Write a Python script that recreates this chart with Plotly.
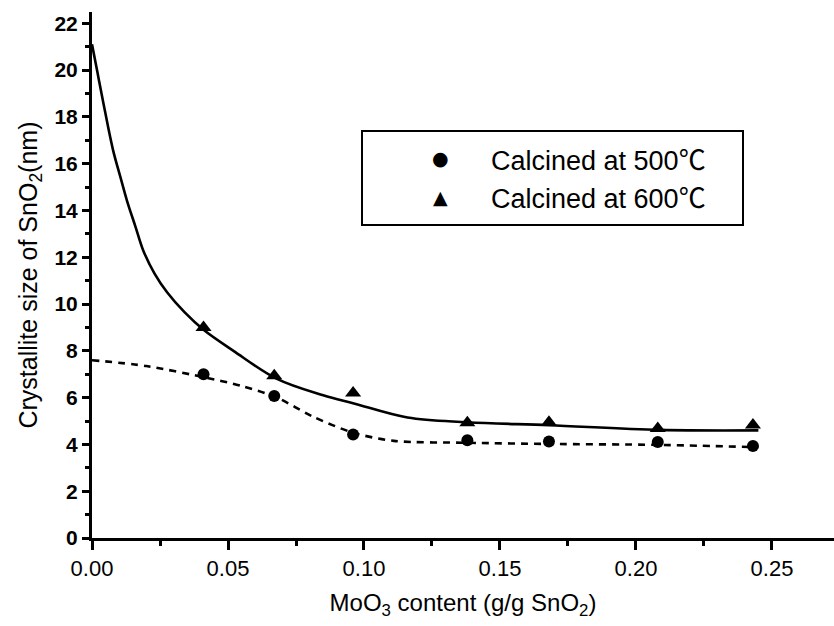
import plotly.graph_objects as go

# Measured crystallite sizes of SnO2 vs MoO3 loading
moo3_content = [0.041, 0.067, 0.096, 0.138, 0.168, 0.208, 0.243]
size_500C = [7.0, 6.07, 4.42, 4.18, 4.12, 4.1, 3.93]
size_600C = [9.0, 6.93, 6.2, 4.93, 4.95, 4.68, 4.83]

# Fitted trend curves
fit600_x = [0.0, 0.002, 0.004, 0.0077, 0.0105, 0.0129, 0.016, 0.0188, 0.023,
            0.0276, 0.034, 0.041, 0.052, 0.068, 0.085, 0.0963, 0.116, 0.138,
            0.168, 0.209, 0.245]
fit600_y = [21.1, 19.9, 18.7, 16.6, 15.4, 14.4, 13.3, 12.3, 11.3,
            10.5, 9.65, 8.9, 8.0, 6.8, 6.1, 5.75, 5.15, 4.95,
            4.82, 4.62, 4.6]
fit500_x = [0.0, 0.02, 0.042, 0.055, 0.068, 0.081, 0.096, 0.111, 0.138,
            0.168, 0.208, 0.245]
fit500_y = [7.6, 7.35, 6.85, 6.5, 6.0, 5.2, 4.5, 4.15, 4.07,
            4.02, 3.98, 3.88]

legend_labels = ["Calcined at 500", "Calcined at 600"]
legend_unit = "℃"
legend_symbols = ["●", "▲"]

FONT = "Liberation Sans, Arial, sans-serif"
CJK = "Noto Sans CJK SC"

fig = go.Figure()

fig.add_trace(go.Scatter(x=fit600_x, y=fit600_y, mode="lines",
                         line=dict(color="black", width=2.6, shape="spline", smoothing=1.0),
                         showlegend=False, hoverinfo="skip"))
fig.add_trace(go.Scatter(x=fit500_x, y=fit500_y, mode="lines",
                         line=dict(color="black", width=2.6, dash="7px,6px",
                                   shape="spline", smoothing=0.8),
                         showlegend=False, hoverinfo="skip"))
fig.add_trace(go.Scatter(x=moo3_content, y=size_500C, mode="markers",
                         marker=dict(symbol="circle", size=12, color="black"),
                         name=legend_labels[0] + legend_unit, showlegend=False))
fig.add_trace(go.Scatter(x=moo3_content, y=size_600C, mode="markers",
                         marker=dict(symbol="triangle-up", size=14, color="black"),
                         name=legend_labels[1] + legend_unit, showlegend=False))

# Boxed key in the upper right
PLOT_L, PLOT_W, PLOT_B, PLOT_T = 92, 742, 538, 12
plot_h = PLOT_B - PLOT_T
x0, x1 = (362 - PLOT_L) / PLOT_W, (743 - PLOT_L) / PLOT_W
y0 = (PLOT_B - 225) / plot_h
y1 = (PLOT_B - 131) / plot_h
fig.add_shape(type="rect", xref="paper", yref="paper", x0=x0, x1=x1, y0=y0, y1=y1,
              line=dict(color="black", width=2), fillcolor="white", layer="below")
rows_px = [158, 197]
for sym, lab, ypx in zip(legend_symbols, legend_labels, rows_px):
    yp = (PLOT_B - ypx) / plot_h
    fig.add_annotation(x=(440 - PLOT_L) / PLOT_W, y=yp, xref="paper", yref="paper",
                       text=sym, showarrow=False, xanchor="center", yanchor="middle",
                       font=dict(family="DejaVu Sans", size=19, color="black"))
    fig.add_annotation(x=(489 - PLOT_L) / PLOT_W, y=yp, xref="paper", yref="paper",
                       text=lab + f'<span style="font-family:{CJK}">{legend_unit}</span>',
                       showarrow=False, xanchor="left", yanchor="middle",
                       font=dict(family=FONT, size=27, color="black"))

fig.update_layout(
    width=834, height=626,
    margin=dict(l=PLOT_L, r=0, t=PLOT_T, b=626 - PLOT_B),
    plot_bgcolor="white", paper_bgcolor="white",
    font=dict(family=FONT, color="black"),
)

fig.update_xaxes(
    range=[0, 0.2728], showgrid=False, zeroline=False,
    showline=True, linecolor="black", linewidth=3,
    tickmode="array", tickvals=[0, 0.05, 0.10, 0.15, 0.20, 0.25],
    ticktext=["0.00", "0.05", "0.10", "0.15", "0.20", "0.25"],
    ticks="outside", ticklen=9, tickwidth=2.5, tickcolor="black",
    minor=dict(tickvals=[0.025, 0.075, 0.125, 0.175, 0.225], ticks="outside",
               ticklen=5, tickwidth=2.5, tickcolor="black"),
    tickfont=dict(family=FONT, size=22, color="black"),
    title=dict(text="MoO<sub>3</sub> content (g/g SnO<sub>2</sub>)",
               font=dict(family=FONT, size=24, color="black"), standoff=14),
)
fig.update_yaxes(
    range=[0, 22.48], showgrid=False, zeroline=False,
    showline=True, linecolor="black", linewidth=3,
    tickmode="linear", tick0=0, dtick=2,
    ticks="outside", ticklen=7, tickwidth=2.5, tickcolor="black",
    minor=dict(dtick=1, ticks="outside", ticklen=4, tickwidth=2.5, tickcolor="black"),
    tickfont=dict(family=FONT, size=21, color="black", weight="bold"),
    title=dict(text="Crystallite size of SnO<sub>2</sub>(nm)",
               font=dict(family=FONT, size=25, color="black"), standoff=10),
)

fig.write_html("out.html")
